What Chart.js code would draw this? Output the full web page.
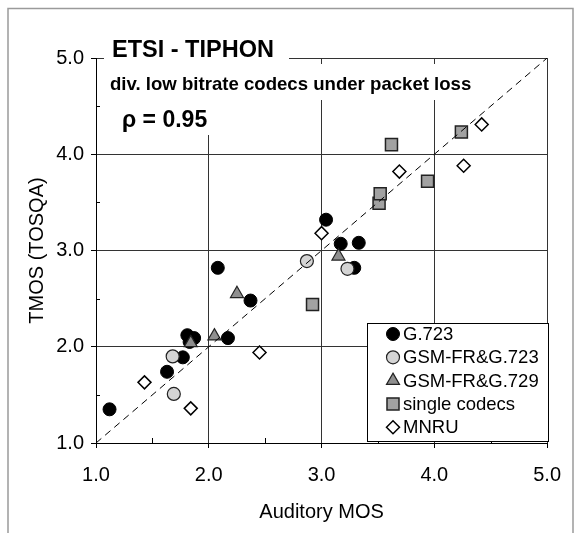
<!DOCTYPE html>
<html lang="en">
<head>
<meta charset="utf-8">
<title>ETSI - TIPHON: TMOS vs Auditory MOS</title>
<script src="https://cdn.jsdelivr.net/npm/chart.js@4.4.0/dist/chart.umd.min.js"></script>
<style>
  body { margin: 0; background: #fff; }
  #wrap { position: relative; width: 576px; height: 533px; }
</style>
</head>
<body>
<div id="wrap"><canvas id="mosChart" width="576" height="533"></canvas></div>
<script>
// values: x = auditory MOS, y = TMOS (TOSQA)
const g723X   = [1.12, 1.63, 1.77, 1.81, 1.87, 1.83, 2.08, 2.17, 2.37, 3.04, 3.17, 3.33, 3.29];
const g723Y   = [1.35, 1.74, 1.89, 2.12, 2.09, 2.05, 2.82, 2.09, 2.48, 3.32, 3.07, 3.08, 2.82];
const gsm723X = [1.68, 1.69, 2.87, 3.23];
const gsm723Y = [1.90, 1.51, 2.89, 2.81];
const gsm729X = [1.84, 2.05, 2.25, 3.15];
const gsm729Y = [2.04, 2.11, 2.55, 2.94];
const singleX = [2.92, 3.51, 3.52, 3.62, 3.94, 4.24];
const singleY = [2.44, 3.49, 3.59, 4.10, 3.72, 4.23];
const mnruX   = [1.43, 1.84, 2.45, 3.00, 3.69, 4.26, 4.42];
const mnruY   = [1.63, 1.36, 1.94, 3.18, 3.82, 3.88, 4.31];
const diagX   = [1, 5];
const diagY   = [1, 5];
const seriesNames = ['G.723', 'GSM-FR&G.723', 'GSM-FR&G.729', 'single codecs', 'MNRU'];
const minorTicks = [1.5, 2.5, 3.5, 4.5];

const FONT = '"Liberation Sans", Arial, Helvetica, sans-serif';

function pts(xs, ys) {
  return xs.map((x, i) => ({ x: x, y: ys[i] }));
}

const styles = [
  { pointStyle: 'circle',   radius: 6.5, bg: '#000000', border: '#000000', bw: 1 },
  { pointStyle: 'circle',   radius: 6.5, bg: '#d4d4d4', border: '#222222', bw: 1.2 },
  { pointStyle: 'triangle', radius: 7.5, bg: '#8f8f8f', border: '#222222', bw: 1.2 },
  { pointStyle: 'rect',     radius: 8.5, bg: '#a2a2a2', border: '#222222', bw: 1.5 },
  { pointStyle: 'rectRot',  radius: 6.5, bg: '#ffffff', border: '#000000', bw: 1.5 }
];
const seriesData = [pts(g723X, g723Y), pts(gsm723X, gsm723Y), pts(gsm729X, gsm729Y),
                    pts(singleX, singleY), pts(mnruX, mnruY)];

const datasets = seriesData.map((d, i) => ({
  label: seriesNames[i],
  data: d,
  order: 5 - i,
  pointStyle: styles[i].pointStyle,
  pointRadius: styles[i].radius,
  pointHoverRadius: styles[i].radius,
  backgroundColor: styles[i].bg,
  borderColor: styles[i].border,
  borderWidth: styles[i].bw
}));
datasets.push({
  type: 'line',
  label: 'diag',
  data: pts(diagX, diagY),
  order: 0,
  borderColor: '#000',
  borderWidth: 1,
  borderDash: [7, 5],
  pointRadius: 0,
  fill: false
});

function mark(ctx, st, x, y) {
  ctx.fillStyle = st.bg;
  ctx.strokeStyle = st.border;
  ctx.lineWidth = st.bw;
  Chart.helpers.drawPoint(ctx, { pointStyle: st.pointStyle, radius: st.radius, borderWidth: st.bw, rotation: 0 }, x, y);
}

function boxedText(ctx, txt, x, baseline, size, box) {
  ctx.fillStyle = '#fff';
  ctx.fillRect(box[0], box[1], box[2], box[3]);
  ctx.fillStyle = '#000';
  ctx.font = 'bold ' + size + 'px ' + FONT;
  ctx.textAlign = 'left';
  ctx.textBaseline = 'alphabetic';
  ctx.fillText(txt, x, baseline);
}

const decor = {
  id: 'decor',
  afterDatasetsDraw(chart) {
    const ctx = chart.ctx;
    const xs = chart.scales.x, ys = chart.scales.y;
    ctx.save();

    // minor ticks pointing inwards
    ctx.strokeStyle = '#000';
    ctx.lineWidth = 1;
    minorTicks.forEach(v => {
      const px = Math.round(xs.getPixelForValue(v)) + 0.5;
      ctx.beginPath(); ctx.moveTo(px, ys.bottom); ctx.lineTo(px, ys.bottom - 5); ctx.stroke();
      const py = Math.round(ys.getPixelForValue(v)) + 0.5;
      ctx.beginPath(); ctx.moveTo(xs.left, py); ctx.lineTo(xs.left + 4, py); ctx.stroke();
    });

    // heading texts sit on white boxes that cut the grid
    boxedText(ctx, 'ETSI - TIPHON', 112, 57, 23.5, [104, 38, 185, 26]);
    boxedText(ctx, 'div. low bitrate codecs under packet loss', 110, 90, 18.6, [104, 64, 380, 36]);
    boxedText(ctx, '\u03C1 = 0.95', 122, 127, 23, [112, 99, 106, 36]);

    // legend
    const lx = 367, ly = 323, lw = 181, lh = 118;
    ctx.fillStyle = '#fff';
    ctx.fillRect(lx, ly, lw, lh);
    ctx.strokeStyle = '#000';
    ctx.lineWidth = 1;
    ctx.strokeRect(lx + 0.5, ly + 0.5, lw, lh);
    ctx.font = '18.5px ' + FONT;
    ctx.textBaseline = 'middle';
    ctx.textAlign = 'left';
    seriesNames.forEach((name, i) => {
      const cy = 334 + i * 23.3;
      mark(ctx, styles[i], 393, cy);
      ctx.fillStyle = '#000';
      ctx.fillText(name, 403, cy + 1);
    });

    // outer frame of the figure
    ctx.strokeStyle = '#9a9a9a';
    ctx.lineWidth = 1.5;
    ctx.strokeRect(8, 8.5, 565, 540);
    ctx.restore();
  }
};

new Chart(document.getElementById('mosChart'), {
  type: 'scatter',
  data: { datasets: datasets },
  options: {
    responsive: false,
    animation: false,
    events: [],
    layout: { padding: { left: 0, top: 58, right: 26, bottom: 0 } },
    plugins: { legend: { display: false }, tooltip: { enabled: false } },
    scales: {
      x: {
        type: 'linear',
        min: 1, max: 5,
        afterFit: s => { s.height = 90; },
        ticks: { stepSize: 1, color: '#000', padding: 15, font: { family: FONT, size: 20 },
                 callback: v => Number(v).toFixed(1) },
        grid: { color: '#333', lineWidth: 1, tickLength: 5, tickColor: '#000' },
        border: { display: true, color: '#000', width: 1 },
        title: { display: true, text: 'Auditory MOS', color: '#000',
                 font: { family: FONT, size: 20 }, padding: { top: 0, bottom: 9 } }
      },
      y: {
        type: 'linear',
        min: 1, max: 5,
        afterFit: s => { s.width = 96; },
        ticks: { stepSize: 1, color: '#000', padding: 7, font: { family: FONT, size: 20 },
                 callback: v => Number(v).toFixed(1) },
        grid: { color: '#333', lineWidth: 1, tickLength: 5, tickColor: '#000' },
        border: { display: true, color: '#000', width: 1 },
        title: { display: true, text: 'TMOS (TOSQA)', color: '#000',
                 font: { family: FONT, size: 20 }, padding: { top: 25, bottom: 0 } }
      }
    }
  },
  plugins: [decor]
});
</script>
</body>
</html>
